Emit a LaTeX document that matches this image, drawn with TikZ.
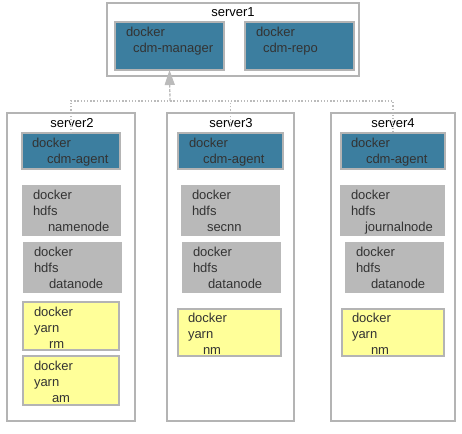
\documentclass[tikz,border=0pt]{standalone}
\usepackage{fontspec}
\setmainfont{Liberation Sans}
\usetikzlibrary{arrows.meta}
\definecolor{teal1}{HTML}{3C7E9F}
\definecolor{gfill}{HTML}{B9B9B9}
\definecolor{yfill}{HTML}{FFFF99}
\definecolor{bord}{HTML}{B4B4B4}
\definecolor{txtc}{HTML}{333333}
\definecolor{dotc}{HTML}{BBBBBB}
\tikzset{
  every node/.style={inner sep=0pt, outer sep=0pt},
  srv/.style={draw=bord, line width=1.6pt, fill=white, rectangle, anchor=north west},
  bluebox/.style={draw=bord, line width=1.6pt, fill=teal1, rectangle, anchor=north west},
  graybox/.style={fill=gfill, rectangle, anchor=north west},
  yelbox/.style={draw=bord, line width=1.6pt, fill=yfill, rectangle, anchor=north west},
  txt/.style={anchor=north west, align=left, text=txtc, font=\fontsize{13}{16}\selectfont},
  ttl/.style={anchor=base, text=black, font=\fontsize{13}{16}\selectfont},
  link/.style={draw=dotc, line width=1.3pt, dash pattern=on 1.3pt off 1.9pt},
  uparrow/.style={draw=dotc, line width=1.3pt, dash pattern=on 3pt off 1.5pt, -{Triangle[width=10pt,length=15pt]}}
}
\newcommand\mybox[6]{\node[#1, minimum width={#4-#2}, minimum height={#5-#3}] (#6) at (#2,#3) {};}
\begin{document}
\begin{tikzpicture}[x=1pt,y=-1pt]
\useasboundingbox (0,0) rectangle (462,433);
% server boxes
\mybox{srv}{107}{3}{359}{76}{s1}
\mybox{srv}{7}{113}{135}{421}{s2}
\mybox{srv}{167}{113}{294}{421}{s3}
\mybox{srv}{331}{113}{455}{421}{s4}
\node[ttl] (t1) at (233,17) {server1};
\node[ttl] (t2) at (72,127) {server2};
\node[ttl] (t3) at (231,127) {server3};
\node[ttl] (t4) at (393,127) {server4};
% server1
\mybox{bluebox}{115}{22}{224}{70}{mgr}
\node[txt] (mgrt) at (126,27.3) {docker\\\hspace*{7pt}cdm-manager};
\mybox{bluebox}{245}{22}{354}{70}{repo}
\node[txt] (repot) at (256,27.3) {docker\\\hspace*{7pt}cdm-repo};
% server2
\mybox{bluebox}{22}{133}{120}{169}{a2}
\node[txt] (a2t) at (32,138.3) {docker\\\hspace*{15pt}cdm-agent};
\mybox{graybox}{22}{185}{121}{236}{nn2}
\node[txt] (nn2t) at (33,190.3) {docker\\hdfs\\\hspace*{15pt}namenode};
\mybox{graybox}{23}{242}{122}{293}{dn2}
\node[txt] (dn2t) at (34,247.3) {docker\\hdfs\\\hspace*{15pt}datanode};
\mybox{yelbox}{23}{302}{119}{350}{rm2}
\node[txt] (rm2t) at (34,307.3) {docker\\yarn\\\hspace*{15pt}rm};
\mybox{yelbox}{23}{356}{119}{405}{am2}
\node[txt] (am2t) at (34,361.3) {docker\\yarn\\\hspace*{18pt}am};
% server3
\mybox{bluebox}{178}{133}{283}{169}{a3}
\node[txt] (a3t) at (189,138.3) {docker\\\hspace*{14pt}cdm-agent};
\mybox{graybox}{181}{185}{280}{236}{sn3}
\node[txt] (sn3t) at (192,190.3) {docker\\hdfs\\\hspace*{15pt}secnn};
\mybox{graybox}{182}{242}{281}{293}{dn3}
\node[txt] (dn3t) at (193,247.3) {docker\\hdfs\\\hspace*{15pt}datanode};
\mybox{yelbox}{178}{309}{281}{356}{nm3}
\node[txt] (nm3t) at (188,313.3) {docker\\yarn\\\hspace*{15pt}nm};
% server4
\mybox{bluebox}{341}{133}{445}{169}{a4}
\node[txt] (a4t) at (351,138.3) {docker\\\hspace*{15pt}cdm-agent};
\mybox{graybox}{340}{185}{445}{236}{jn4}
\node[txt] (jn4t) at (351,190.3) {docker\\hdfs\\\hspace*{14pt}journalnode};
\mybox{graybox}{345}{242}{444}{293}{dn4}
\node[txt] (dn4t) at (356,247.3) {docker\\hdfs\\\hspace*{15pt}datanode};
\mybox{yelbox}{342}{309}{444}{356}{nm4}
\node[txt] (nm4t) at (352,313.3) {docker\\yarn\\\hspace*{19pt}nm};
% connectors
\coordinate (j) at (170,101);
\draw[link] (a2.north) -- (a2.north |- j) -- (a4.north |- j) -- (a4.north);
\draw[link] (a3.north) -- (a3.north |- j);
\draw[uparrow] (j) -- (mgr.south);
\end{tikzpicture}
\end{document}
